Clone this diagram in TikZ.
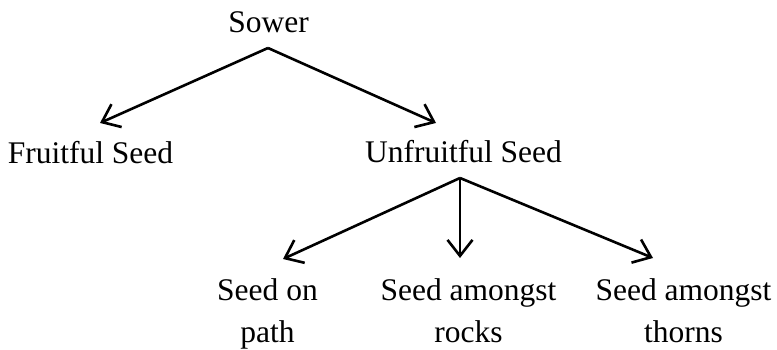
\documentclass[tikz,border=0pt]{standalone}
\usepackage{fontspec}
\setmainfont{Liberation Serif}
\usetikzlibrary{arrows.meta}
\tikzset{
  lbl/.style={inner sep=0pt, anchor=base, align=center, font=\fontsize{31.5}{42}\selectfont},
  arr/.style={line width=2.6pt, line join=miter, -{Straight Barb[length=16pt,width=25pt]}}
}
\begin{document}
\begin{tikzpicture}[x=1pt,y=-1pt]
\useasboundingbox (0,0) rectangle (777,350);
\node[lbl] (sower) at (268.5,33) {Sower};
\node[lbl] (fruit) at (90.5,164) {Fruitful Seed};
\node[lbl] (unfruit) at (463.5,163) {Unfruitful Seed};
\node[lbl] (path) at (267.5,342) {Seed on\\path};
\node[lbl] (rocks) at (468.5,342) {Seed amongst\\rocks};
\node[lbl] (thorns) at (683.5,342) {Seed amongst\\thorns};
\coordinate (a1) at (268,48);
\coordinate (t1) at (100,123);
\coordinate (t2) at (436,123);
\coordinate (a2) at (460,178);
\coordinate (t3) at (283,259);
\coordinate (t4) at (460,258);
\coordinate (t5) at (653,258);
\draw[arr] (a1) -- (t1);
\draw[arr] (a1) -- (t2);
\draw[arr] (a2) -- (t3);
\draw[arr] (a2) -- (t4);
\draw[arr] (a2) -- (t5);
\end{tikzpicture}
\end{document}
